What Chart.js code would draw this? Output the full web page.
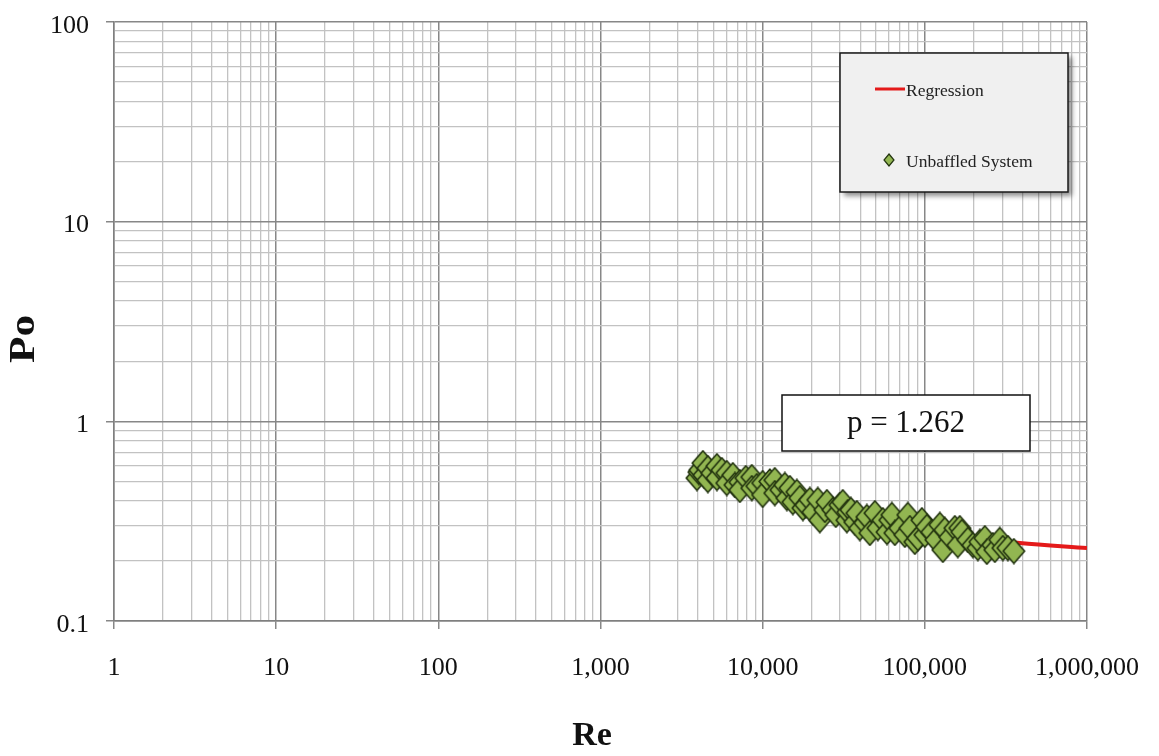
<!DOCTYPE html>
<html>
<head>
<meta charset="utf-8">
<title>Po vs Re</title>
<script src="https://cdn.jsdelivr.net/npm/chart.js@4.4.1/dist/chart.umd.min.js"></script>
<style>
  html, body { margin: 0; padding: 0; background: #ffffff; }
  #wrap { width: 1159px; height: 756px; position: relative; }
  canvas { display: block; }
</style>
</head>
<body>
<div id="wrap"><canvas id="chart" width="1159" height="756"></canvas></div>
<script>
// Measured Reynolds numbers and power numbers (unbaffled vessel)
const reynolds = [
  3930, 4040, 4100, 4280, 4340, 4590, 4590, 4860, 5220, 5220,
  5600, 6010, 6010, 6550, 6740, 7230, 7230, 7870, 8570, 8570,
  9200, 10000, 10000, 11070, 11880, 11880, 12950, 13700, 14100, 14720,
  15350, 16250, 16950, 17700, 18460, 19540, 20390, 21880, 22500, 24170,
  24890, 27100, 28250, 29920, 31200, 33040, 33500, 35000, 37000, 38100,
  39720, 42660, 43900, 45800, 49200, 51300, 55100, 58400, 60800, 62600,
  65300, 70100, 75300, 78500, 80800, 86800, 90600, 95900, 100000, 102900,
  110400, 117000, 123700, 129100, 132800, 142600, 153100, 159700, 164300, 169100,
  184200, 197700, 212300, 218300, 234400, 241200, 262600, 270300, 289900, 302700,
  325000, 353800
];
const powerNumber = [
  0.520, 0.557, 0.570, 0.618, 0.538, 0.583, 0.508, 0.551, 0.597, 0.520,
  0.570, 0.551, 0.491, 0.538, 0.480, 0.496, 0.453, 0.520, 0.526, 0.463,
  0.474, 0.491, 0.428, 0.500, 0.508, 0.437, 0.453, 0.480, 0.413, 0.463,
  0.394, 0.443, 0.413, 0.368, 0.381, 0.404, 0.351, 0.404, 0.320, 0.360,
  0.394, 0.360, 0.340, 0.381, 0.394, 0.320, 0.351, 0.360, 0.313, 0.347,
  0.292, 0.310, 0.332, 0.276, 0.347, 0.292, 0.320, 0.279, 0.320, 0.340,
  0.276, 0.292, 0.270, 0.340, 0.292, 0.249, 0.260, 0.320, 0.270, 0.296,
  0.279, 0.255, 0.303, 0.227, 0.286, 0.263, 0.292, 0.240, 0.292, 0.279,
  0.255, 0.240, 0.232, 0.249, 0.260, 0.222, 0.240, 0.227, 0.255, 0.232,
  0.232, 0.224
];

// Fitted regression curve
const regressionRe = [4000, 6000, 10000, 20000, 50000, 100000, 200000, 385000, 1000000];
const regressionPo = [0.500, 0.468, 0.425, 0.370, 0.315, 0.285, 0.262, 0.246, 0.232];

// Axis ranges (decades)
const reDecades = [0, 1, 2, 3, 4, 5, 6];        // 1 .. 1,000,000
const poDecades = [-1, 0, 1, 2];                 // 0.1 .. 100

const seriesNames = ['Regression', 'Unbaffled System'];
const fitLabel = 'p = 1.262';
const xTitle = 'Re';
const yTitle = 'Po';

const SERIF = '"Liberation Serif", "Times New Roman", "DejaVu Serif", serif';
const MARKER_FILL = '#92b651';
const MARKER_EDGE = '#22330f';
const LINE_RED = '#e41a1a';

function cleanNum(v) { return parseFloat(v.toPrecision(12)); }
function isDecade(v) {
  const l = Math.log10(v);
  return Math.abs(l - Math.round(l)) < 1e-9;
}
function logTicks(decades) {
  const out = [];
  for (let i = 0; i < decades.length; i++) {
    const k = decades[i];
    const base = Math.pow(10, k);
    if (i === decades.length - 1) { out.push({ value: cleanNum(base) }); break; }
    for (let m = 1; m <= 9; m++) out.push({ value: cleanNum(m * base) });
  }
  return out;
}

// Diamond marker sprite (slightly taller than wide)
function diamondSprite(w, h, lw) {
  const c = document.createElement('canvas');
  c.width = w;
  c.height = h;
  const g = c.getContext('2d');
  const p = lw / 2 + 0.5;
  g.beginPath();
  g.moveTo(w / 2, p);
  g.lineTo(w - p, h / 2);
  g.lineTo(w / 2, h - p);
  g.lineTo(p, h / 2);
  g.closePath();
  g.fillStyle = MARKER_FILL;
  g.fill();
  g.lineWidth = lw;
  g.lineJoin = 'miter';
  g.strokeStyle = MARKER_EDGE;
  g.stroke();
  return c;
}
const markerSprite = diamondSprite(24, 27, 1.6);

const gridColor = ctx => (ctx.tick && isDecade(ctx.tick.value)) ? '#878787' : '#c2c2c2';
const gridWidth = ctx => (ctx.tick && isDecade(ctx.tick.value)) ? 1.5 : 1.3;
const tickMarkColor = ctx => (ctx.tick && isDecade(ctx.tick.value)) ? '#878787' : 'rgba(0,0,0,0)';

// keep the plot frame fixed: labels may overhang into the outer margin
function zeroScalePadding(scale) {
  scale.paddingTop = 0;
  scale.paddingBottom = 0;
  scale.paddingLeft = 0;
  scale.paddingRight = 0;
}

const scatterPoints = reynolds.map((r, i) => ({ x: r, y: powerNumber[i] }));
const regressionPoints = regressionRe.map((r, i) => ({ x: r, y: regressionPo[i] }));

// Legend panel, fit annotation and axis titles
const decorations = {
  id: 'decorations',
  afterDraw(chart) {
    const ctx = chart.ctx;
    ctx.save();

    // fit annotation box
    const bx = 782, by = 395, bw = 248, bh = 56;
    ctx.fillStyle = '#ffffff';
    ctx.fillRect(bx, by, bw, bh);
    ctx.lineWidth = 1.5;
    ctx.strokeStyle = '#111111';
    ctx.strokeRect(bx, by, bw, bh);
    ctx.fillStyle = '#111111';
    ctx.font = '31px ' + SERIF;
    ctx.textAlign = 'center';
    ctx.textBaseline = 'middle';
    ctx.fillText(fitLabel, bx + bw / 2, by + bh / 2 + 1);

    // legend panel with drop shadow
    const lx = 840, ly = 53, lw = 228, lh = 139;
    ctx.save();
    ctx.shadowColor = 'rgba(0,0,0,0.45)';
    ctx.shadowBlur = 5;
    ctx.shadowOffsetX = 4;
    ctx.shadowOffsetY = 4;
    ctx.fillStyle = '#f0f0f0';
    ctx.fillRect(lx, ly, lw, lh);
    ctx.restore();
    ctx.lineWidth = 1.5;
    ctx.strokeStyle = '#1a1a1a';
    ctx.strokeRect(lx, ly, lw, lh);

    ctx.font = '17.5px ' + SERIF;
    ctx.textAlign = 'left';
    ctx.textBaseline = 'middle';
    // regression entry
    ctx.strokeStyle = LINE_RED;
    ctx.lineWidth = 3;
    ctx.beginPath();
    ctx.moveTo(875, 89);
    ctx.lineTo(905, 89);
    ctx.stroke();
    ctx.fillStyle = '#222222';
    ctx.fillText(seriesNames[0], 906, 91);
    // scatter entry
    ctx.beginPath();
    ctx.moveTo(889, 154);
    ctx.lineTo(894, 160);
    ctx.lineTo(889, 166);
    ctx.lineTo(884, 160);
    ctx.closePath();
    ctx.fillStyle = MARKER_FILL;
    ctx.fill();
    ctx.lineWidth = 1.2;
    ctx.strokeStyle = MARKER_EDGE;
    ctx.stroke();
    ctx.fillStyle = '#222222';
    ctx.fillText(seriesNames[1], 906, 162);

    // axis titles
    ctx.fillStyle = '#111111';
    ctx.font = 'bold 34px ' + SERIF;
    ctx.textAlign = 'center';
    ctx.textBaseline = 'middle';
    ctx.fillText(xTitle, 592, 736);
    ctx.translate(25, 339);
    ctx.rotate(-Math.PI / 2);
    ctx.scale(1.2, 1);
    ctx.font = 'bold 36px ' + SERIF;
    ctx.fillText(yTitle, 0, 0);
    ctx.restore();
  }
};

const whiteBg = {
  id: 'whiteBg',
  beforeDraw(chart) {
    const ctx = chart.ctx;
    ctx.save();
    ctx.fillStyle = '#ffffff';
    ctx.fillRect(0, 0, chart.width, chart.height);
    ctx.restore();
  }
};

new Chart(document.getElementById('chart'), {
  type: 'scatter',
  data: {
    datasets: [
      {
        label: seriesNames[0],
        data: regressionPoints,
        showLine: true,
        borderColor: LINE_RED,
        borderWidth: 4,
        pointRadius: 0,
        cubicInterpolationMode: 'monotone',
        order: 2
      },
      {
        label: seriesNames[1],
        data: scatterPoints,
        pointStyle: markerSprite,
        pointRadius: 12,
        backgroundColor: MARKER_FILL,
        borderColor: MARKER_EDGE,
        order: 1
      }
    ]
  },
  options: {
    responsive: false,
    animation: false,
    events: [],
    layout: { padding: { top: 22, right: 72, left: 0, bottom: 0 } },
    plugins: {
      legend: { display: false },
      tooltip: { enabled: false }
    },
    scales: {
      x: {
        type: 'logarithmic',
        min: 1,
        max: 1000000,
        afterBuildTicks(scale) { scale.ticks = logTicks(reDecades); },
        afterFit(scale) { scale.height = 135; zeroScalePadding(scale); },
        ticks: {
          autoSkip: false,
          maxRotation: 0,
          minRotation: 0,
          padding: 24,
          color: '#111111',
          font: { family: SERIF, size: 26 },
          callback: v => isDecade(v) ? Number(v).toLocaleString('en-US') : ''
        },
        grid: {
          color: gridColor,
          lineWidth: gridWidth,
          tickColor: tickMarkColor,
          tickLength: 8
        },
        border: { color: '#7f7f7f', width: 1.5 }
      },
      y: {
        type: 'logarithmic',
        min: 0.1,
        max: 100,
        afterBuildTicks(scale) { scale.ticks = logTicks(poDecades); },
        afterFit(scale) { scale.width = 114; zeroScalePadding(scale); },
        ticks: {
          autoSkip: false,
          padding: 17,
          labelOffset: 4,
          color: '#111111',
          font: { family: SERIF, size: 26 },
          callback: v => isDecade(v) ? String(cleanNum(v)) : ''
        },
        grid: {
          color: gridColor,
          lineWidth: gridWidth,
          tickColor: tickMarkColor,
          tickLength: 8
        },
        border: { color: '#7f7f7f', width: 1.5 }
      }
    }
  },
  plugins: [whiteBg, decorations]
});
</script>
</body>
</html>
